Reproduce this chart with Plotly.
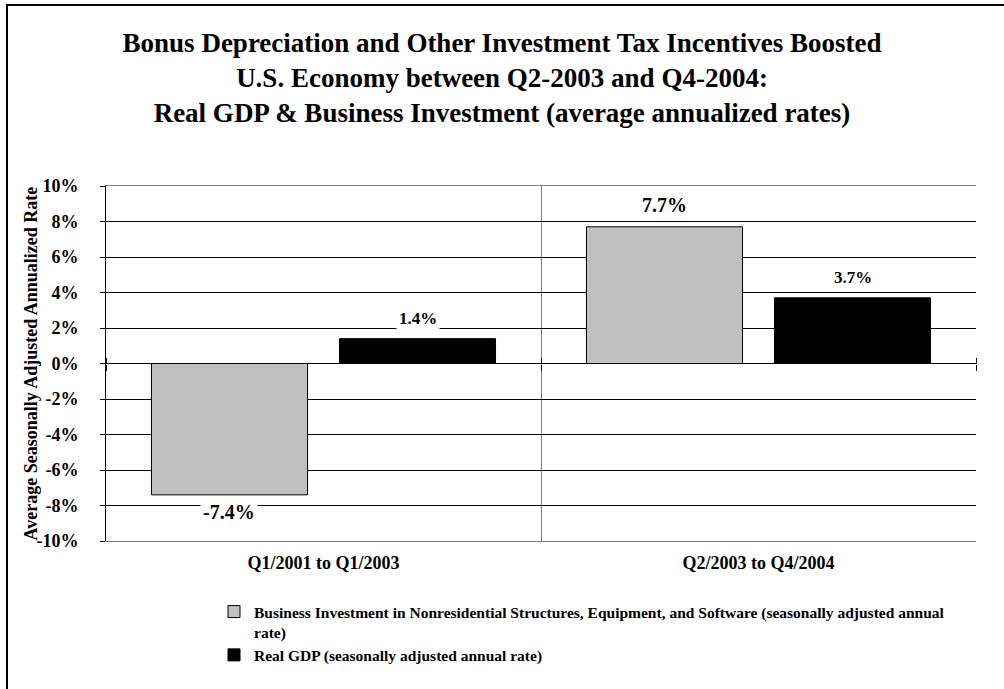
import plotly.graph_objects as go

# ---------------- data ----------------
categories = ["Q1/2001 to Q1/2003", "Q2/2003 to Q4/2004"]
investment = [-7.4, 7.7]
real_gdp = [1.4, 3.7]
investment_name = ("Business Investment in Nonresidential Structures, Equipment, and Software "
                   "(seasonally adjusted annual<br>rate)")
gdp_name = "Real GDP (seasonally adjusted annual rate)"
y_ticks = [-10, -8, -6, -4, -2, 0, 2, 4, 6, 8, 10]
y_ticktext = [f"{v}%" for v in y_ticks]
title_lines = [
    "Bonus Depreciation and Other Investment Tax Incentives Boosted",
    "U.S. Economy between Q2-2003 and Q4-2004:",
    "Real GDP & Business Investment (average annualized rates)",
]
y_title = "Average Seasonally Adjusted Annualized Rate"

# ---------------- style ----------------
FONT = "Liberation Serif"
W, H = 1004, 689
ML, MR, MT, MB = 106, 28, 186, 148
BARGAP, GROUPGAP = 0.1356, 0.17
GRAY = "#C0C0C0"

plot_w = W - ML - MR
plot_h = H - MT - MB
cat_w = plot_w / len(categories)
slot = (1 - BARGAP) * cat_w / 2
shift = slot / 2

fig = go.Figure()
fig.add_bar(x=categories, y=investment, name=investment_name,
            marker=dict(color=GRAY, line=dict(color="black", width=1)))
fig.add_bar(x=categories, y=real_gdp, name=gdp_name,
            marker=dict(color="black", line=dict(color="black", width=1)))
# helper traces so the zero-line tick axes are drawn
fig.add_scatter(x=[], y=[], xaxis="x2", showlegend=False, hoverinfo="skip")
fig.add_scatter(x=[], y=[], xaxis="x3", showlegend=False, hoverinfo="skip")

annotations = []
for cat, v in zip(categories, investment):
    annotations.append(dict(
        x=cat, y=v, xref="x", yref="y", text=f"{v:.1f}%", showarrow=False,
        xshift=-shift, yshift=8 if v >= 0 else -3,
        yanchor="bottom" if v >= 0 else "top",
        bgcolor="white", borderpad=2,
        font=dict(family=FONT, size=20, color="black", weight="bold")))
for cat, v in zip(categories, real_gdp):
    annotations.append(dict(
        x=cat, y=v, xref="x", yref="y", text=f"{v:.1f}%", showarrow=False,
        xshift=shift, yshift=8 if v >= 0 else -3,
        yanchor="bottom" if v >= 0 else "top",
        bgcolor="white", borderpad=2,
        font=dict(family=FONT, size=17, color="black", weight="bold")))

# y-axis title (placed as rotated text left of the tick labels)
annotations.append(dict(
    x=(30 - ML) / plot_w, y=0.5, xref="paper", yref="paper", text=y_title,
    textangle=-90, showarrow=False, xanchor="center", yanchor="middle",
    font=dict(family=FONT, size=18, color="black", weight="bold")))

fig.update_layout(
    width=W, height=H,
    margin=dict(l=ML, r=MR, t=MT, b=MB),
    paper_bgcolor="white", plot_bgcolor="white",
    font=dict(family=FONT, color="black"),
    barmode="group", bargap=BARGAP, bargroupgap=GROUPGAP,
    title=dict(text="<br>".join(title_lines), x=0.5, xref="container", xanchor="center",
               y=1 - 52 / H, yref="container", yanchor="top",
               font=dict(family=FONT, size=27, color="black", weight="bold")),
    xaxis=dict(type="category", categoryarray=categories, range=[-0.5, 1.5],
               showgrid=True, tickson="boundaries", gridcolor="#808080", gridwidth=1,
               showline=True, linecolor="#808080", linewidth=1, mirror=True,
               ticks="", ticklabelstandoff=5,
               tickfont=dict(family=FONT, size=18, color="black", weight="bold")),
    xaxis2=dict(overlaying="x", anchor="free", position=0.5, side="bottom",
                range=[-0.5, 1.5], tickvals=[-0.5, 0.5, 1.5], showgrid=False,
                showline=False, zeroline=False, ticks="outside", ticklen=6,
                tickcolor="black", showticklabels=False),
    xaxis3=dict(overlaying="x", anchor="free", position=0.5, side="top",
                range=[-0.5, 1.5], tickvals=[-0.5, 0.5, 1.5], showgrid=False,
                showline=False, zeroline=False, ticks="outside", ticklen=6,
                tickcolor="black", showticklabels=False),
    yaxis=dict(range=[-10, 10], tickvals=y_ticks, ticktext=y_ticktext,
               showgrid=True, gridcolor="black", gridwidth=1, zeroline=False,
               showline=True, linecolor="black", linewidth=1,
               ticks="outside", ticklen=5, tickcolor="black", ticklabelstandoff=18,
               tickfont=dict(family=FONT, size=18, color="black", weight="bold")),
    legend=dict(x=(214 - ML) / plot_w, y=(plot_h - (595 - MT)) / plot_h,
                xanchor="left", yanchor="top", bgcolor="rgba(0,0,0,0)",
                valign="top",
                font=dict(family=FONT, size=15.5, color="black", weight="bold"),
                tracegroupgap=0),
    annotations=annotations,
    shapes=[dict(type="rect", xref="paper", yref="paper",
                 x0=(7 - ML) / plot_w, x1=(W + 20 - ML) / plot_w,
                 y0=-(H + 20 - MT - plot_h) / plot_h, y1=(plot_h + MT - 5) / plot_h,
                 line=dict(color="black", width=2), fillcolor="rgba(0,0,0,0)",
                 layer="below")],
    showlegend=True,
)

fig.write_html("out.html")
